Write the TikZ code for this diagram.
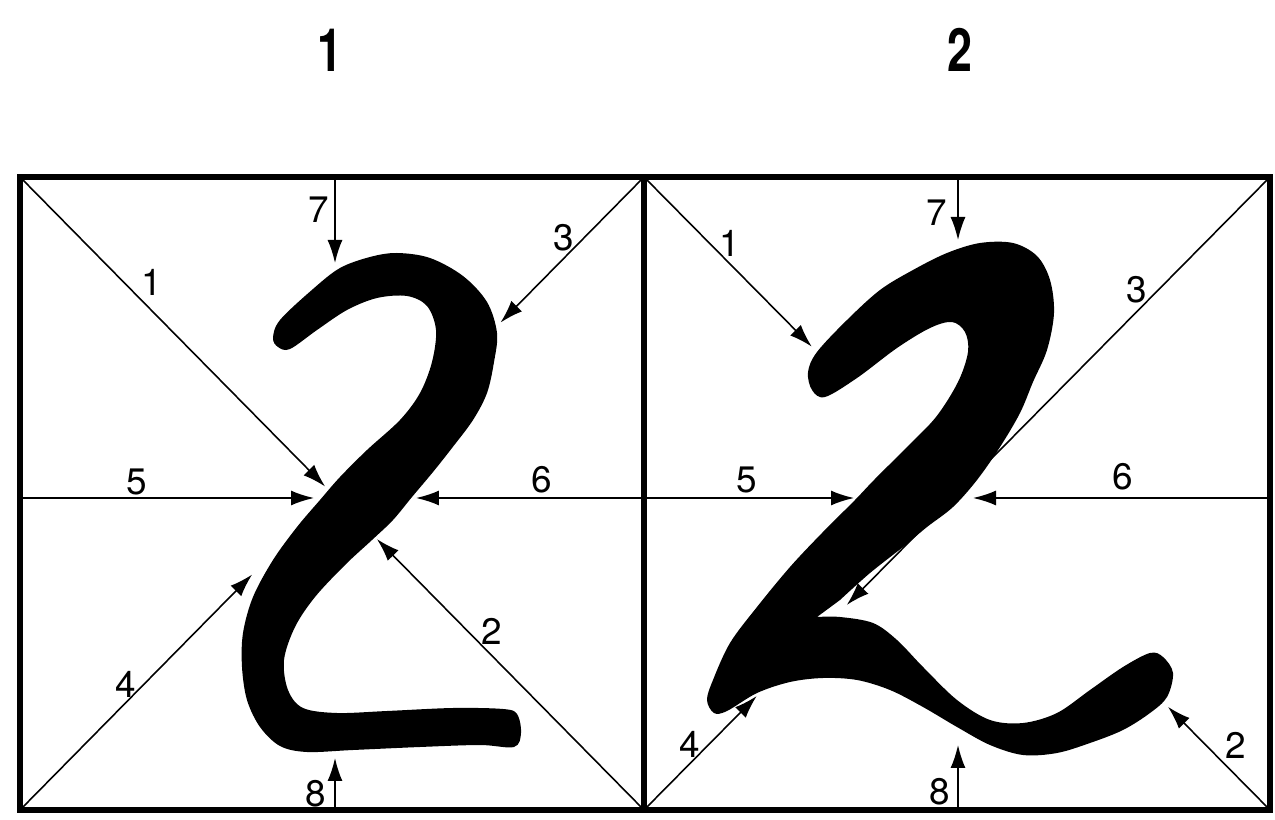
\documentclass[tikz,border=0pt]{standalone}
\usepackage{fontspec}
\setmainfont{TeX Gyre Heros}
\usepackage{tikz}
\usetikzlibrary{arrows.meta,calc}

\begin{document}
\begin{tikzpicture}[
    x=0.02cm, y=-0.02cm,
    frame/.style={
        draw=black,
        line width=3.2pt
    },
    guide/.style={
        draw=black,
        line width=0.9pt,
        -{Latex[length=4.6mm,width=3mm]}
    },
    num/.style={
        font=\fontsize{21}{21}\selectfont,
        inner sep=0pt
    },
    title/.style={
        font=\fontsize{34}{34}\selectfont\bfseries,
        xscale=0.75,
        inner sep=0pt
    },
    ink/.style={
        fill=black
    }
]

\useasboundingbox (0,0) rectangle (1275,820);

% titles
\node[title] (t1) at (330,50) {1};
\node[title] (t2) at (960,50) {2};

% corners of the two panels
\coordinate (Ltl) at (20,177);
\coordinate (Ltr) at (644,177);
\coordinate (Lbl) at (20,810);
\coordinate (Lbr) at (644,810);
\coordinate (Rtl) at (644,177);
\coordinate (Rtr) at (1270,177);
\coordinate (Rbl) at (644,810);
\coordinate (Rbr) at (1270,810);

% frame
\draw[frame] (Ltl) rectangle (Rbr);
\draw[frame] (Ltr) -- (Lbr);

% left panel
\coordinate (L1) at ($(Ltl)!0.489!(Lbr)$);
\coordinate (L2) at ($(Lbr)!0.428!(Ltl)$);
\coordinate (L3) at ($(Ltr)!0.23!(Lbl)$);
\coordinate (L4) at ($(Lbl)!0.372!(Ltr)$);
\coordinate (L5s) at (20,498);
\coordinate (L5) at (314,498);
\coordinate (L6s) at (644,498);
\coordinate (L6) at (416,498);
\coordinate (L7s) at (335,177);
\coordinate (L7) at (335,263);
\coordinate (L8s) at (335,810);
\coordinate (L8) at (335,758);

\draw[guide] (Ltl) -- (L1);
\draw[guide] (Lbr) -- (L2);
\draw[guide] (Ltr) -- (L3);
\draw[guide] (Lbl) -- (L4);
\draw[guide] (L5s) -- (L5);
\draw[guide] (L6s) -- (L6);
\draw[guide] (L7s) -- (L7);
\draw[guide] (L8s) -- (L8);

\node[num] (l1) at (152,282) {1};
\node[num] (l2) at (492,631) {2};
\node[num] (l3) at (564,238) {3};
\node[num] (l4) at (126,684) {4};
\node[num] (l5) at (137,482) {5};
\node[num] (l6) at (542,480) {6};
\node[num] (l7) at (319,210) {7};
\node[num] (l8) at (316,794) {8};

% right panel
\coordinate (R1) at ($(Rtl)!0.268!(Rbr)$);
\coordinate (R2) at ($(Rbr)!0.163!(Rtl)$);
\coordinate (R3) at ($(Rtr)!0.676!(Rbl)$);
\coordinate (R4) at ($(Rbl)!0.18!(Rtr)$);
\coordinate (R5s) at (644,498);
\coordinate (R5) at (854,498);
\coordinate (R6s) at (1270,498);
\coordinate (R6) at (973,498);
\coordinate (R7s) at (958,177);
\coordinate (R7) at (958,240);
\coordinate (R8s) at (958,810);
\coordinate (R8) at (958,745);

\draw[guide] (Rtl) -- (R1);
\draw[guide] (Rbr) -- (R2);
\draw[guide] (Rtr) -- (R3);
\draw[guide] (Rbl) -- (R4);
\draw[guide] (R5s) -- (R5);
\draw[guide] (R6s) -- (R6);
\draw[guide] (R7s) -- (R7);
\draw[guide] (R8s) -- (R8);

\node[num] (r1) at (730,243) {1};
\node[num] (r2) at (1236,745) {2};
\node[num] (r3) at (1137,290) {3};
\node[num] (r4) at (690,744) {4};
\node[num] (r5) at (747,480) {5};
\node[num] (r6) at (1123,477) {6};
\node[num] (r7) at (937,213) {7};
\node[num] (r8) at (940,792) {8};

% left digit
\fill[ink] plot[smooth cycle, tension=0.55] coordinates {
    (273,338) (280,320) (313,289) (340,268) (370,257) (397,253)
    (430,258) (463,276) (487,302) (497,333) (494,362) (487,393)
    (473,420) (452,448) (433,472) (412,497) (393,520) (372,540)
    (345,565) (315,597) (295,627) (284,660) (288,690) (303,708)
    (337,713) (387,711) (453,708) (503,709) (517,714) (521,733)
    (514,747) (480,745) (420,747) (353,750) (307,752) (280,746)
    (260,727) (247,700) (242,667) (243,633) (253,597) (273,560)
    (297,527) (320,500) (340,477) (367,450) (400,420) (420,393)
    (432,362) (436,330) (427,306) (407,296) (377,298) (347,310)
    (317,330) (290,349) (278,347)};

% right digit
\fill[ink] plot[smooth, tension=0.55] coordinates {
    (817,617) (840,617) (873,623) (897,640) (923,667) (957,700)
    (990,720) (1023,723) (1057,713) (1090,690) (1123,667) (1150,653)
    (1163,657) (1173,673) (1167,697) (1150,713) (1123,730) (1090,743)
    (1057,753) (1023,755) (990,745) (957,727) (923,707) (890,690)
    (857,680) (823,678) (790,682) (757,693) (727,711) (714,713)
    (707,700) (713,680) (730,643) (757,607) (790,567) (822,533)
    (855,500) (874,480) (906,448) (936,417) (958,382) (968,352)
    (965,332) (952,322) (930,328) (897,348) (857,378) (825,397)
    (812,390) (808,372) (817,352) (847,320) (880,290) (913,270)
    (947,253) (980,243) (1013,243) (1037,256) (1050,280) (1054,313)
    (1047,350) (1033,382) (1020,413) (1000,447) (977,480) (953,507)
    (927,527) (903,547) (870,573) (840,600)} -- cycle;

\end{tikzpicture}
\end{document}
